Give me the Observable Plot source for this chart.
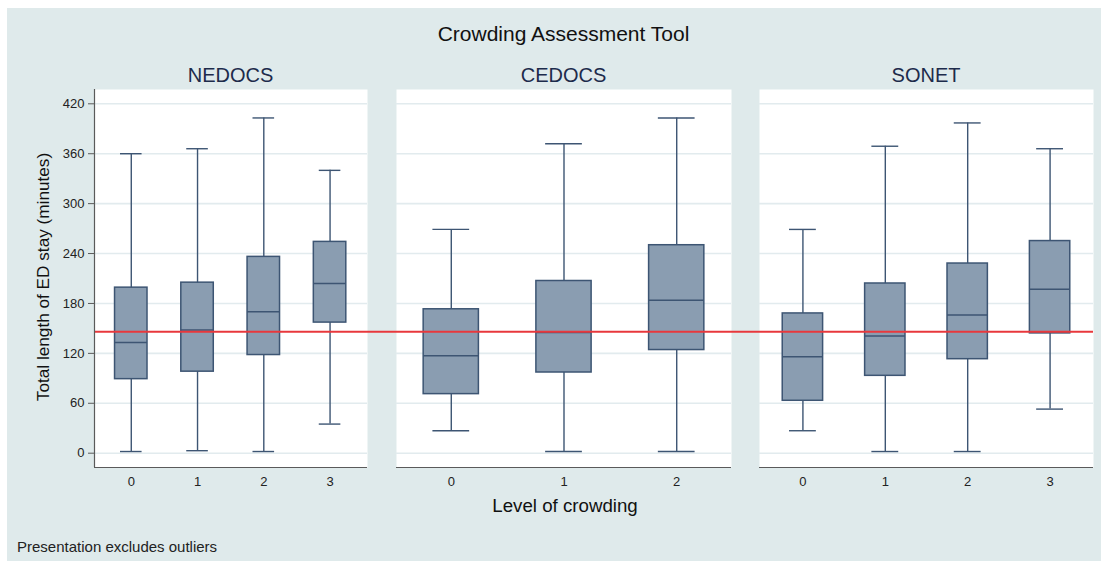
<!DOCTYPE html>
<html>
<head>
<meta charset="utf-8">
<script src="https://cdn.jsdelivr.net/npm/d3@7"></script>
<script src="https://cdn.jsdelivr.net/npm/@observablehq/plot@0.6"></script>
<style>
  html, body { margin: 0; padding: 0; background: #ffffff; }
  body { width: 1108px; height: 563px; position: relative; overflow: hidden; font-family: "Liberation Sans", Arial, sans-serif; }
  #bg { position: absolute; left: 7px; top: 8px; width: 1094px; height: 553px; background: #dfeaeb; }
  .txt { position: absolute; white-space: nowrap; line-height: 1; }
  .c { transform: translateX(-50%); }
  .plotbox { position: absolute; top: 60px; }
  .plotbox svg text { font-size: 13px !important; font-family: "Liberation Sans", Arial, sans-serif !important; }
</style>
</head>
<body>
<div id="bg"></div>
<div id="root"></div>
<script>
// ---- data ----
const panelNames = ["NEDOCS", "CEDOCS", "SONET"];
const yTicks = [0, 60, 120, 180, 240, 300, 360, 420];
const referenceLine = 146;

const nedocsLevel  = [0, 1, 2, 3];
const nedocsLow    = [2, 3, 2, 35];
const nedocsQ1     = [89, 98, 118, 157];
const nedocsMedian = [133, 148, 170, 204];
const nedocsQ3     = [199, 205, 236, 254];
const nedocsHigh   = [360, 366, 403, 340];

const cedocsLevel  = [0, 1, 2];
const cedocsLow    = [27, 2, 2];
const cedocsQ1     = [71, 97, 124];
const cedocsMedian = [117, 145, 184];
const cedocsQ3     = [173, 207, 250];
const cedocsHigh   = [269, 372, 403];

const sonetLevel  = [0, 1, 2, 3];
const sonetLow    = [27, 2, 2, 53];
const sonetQ1     = [63, 93, 113, 144];
const sonetMedian = [116, 141, 166, 197];
const sonetQ3     = [168, 204, 228, 255];
const sonetHigh   = [269, 369, 397, 366];

// ---- styling ----
const boxFill = "#8a9db1";
const boxStroke = "#3d5573";
const axisColor = "#5a5a5a";
const gridColor = "#e2ebee";
const redColor = "#e8383c";
const yDomain = [-17.2, 437.2];
const boxHalf = 0.245;
const capHalf = 0.163;

function rowsOf(level, low, q1, med, q3, high) {
  return level.map((l, i) => ({level: l, low: low[i], q1: q1[i], med: med[i], q3: q3[i], high: high[i]}));
}

function panelPlot(rows, opts) {
  const marks = [
    Plot.frame({fill: "white", stroke: "none"}),
    Plot.gridY(yTicks, {stroke: gridColor, strokeOpacity: 1, strokeWidth: 1.6}),
    Plot.ruleX(rows, {x: "level", y1: "low", y2: "high", stroke: boxStroke, strokeWidth: 1.4}),
    Plot.ruleY(rows, {y: "low", x1: d => d.level - capHalf, x2: d => d.level + capHalf, stroke: boxStroke, strokeWidth: 1.4}),
    Plot.ruleY(rows, {y: "high", x1: d => d.level - capHalf, x2: d => d.level + capHalf, stroke: boxStroke, strokeWidth: 1.4}),
    Plot.rect(rows, {x1: d => d.level - boxHalf, x2: d => d.level + boxHalf, y1: "q1", y2: "q3", fill: boxFill, stroke: boxStroke, strokeWidth: 1.5}),
    Plot.ruleY(rows, {y: "med", x1: d => d.level - boxHalf, x2: d => d.level + boxHalf, stroke: boxStroke, strokeWidth: 1.5}),
    Plot.ruleY([referenceLine], {stroke: redColor, strokeWidth: 2, insetLeft: opts.insetLeft, insetRight: opts.insetRight}),
    Plot.ruleY([yDomain[0]], {stroke: axisColor, strokeWidth: 1.2}),
    Plot.axisX(rows.map(d => d.level), {tickSize: 0, tickPadding: 9, tickFormat: d => String(d), label: null, fill: "#222", fontSize: 13})
  ];
  if (opts.yAxis) {
    marks.push(Plot.ruleX([opts.domain[0]], {stroke: axisColor, strokeWidth: 1.2}));
    marks.push(Plot.axisY(yTicks, {tickSize: 6, tickPadding: 4, label: null, stroke: axisColor, fill: "#222", fontSize: 13}));
  }
  return Plot.plot({
    width: opts.width,
    height: 437,
    marginLeft: opts.ml,
    marginRight: opts.mr,
    marginTop: 29,
    marginBottom: 30,
    style: {background: "transparent", fontSize: "13px", fontFamily: "'Liberation Sans', Arial, sans-serif", overflow: "visible"},
    x: {type: "linear", domain: opts.domain, axis: null},
    y: {domain: yDomain, axis: null},
    marks
  });
}

const root = document.getElementById("root");
const panels = [
  {rows: rowsOf(nedocsLevel, nedocsLow, nedocsQ1, nedocsMedian, nedocsQ3, nedocsHigh),
   left: 30, width: 351, ml: 64, mr: 14, domain: [-0.555, 3.565], yAxis: true, insetLeft: 0, insetRight: -14},
  {rows: rowsOf(cedocsLevel, cedocsLow, cedocsQ1, cedocsMedian, cedocsQ3, cedocsHigh),
   left: 381, width: 364, ml: 15, mr: 14, domain: [-0.486, 2.486], yAxis: false, insetLeft: -15, insetRight: -14},
  {rows: rowsOf(sonetLevel, sonetLow, sonetQ1, sonetMedian, sonetQ3, sonetHigh),
   left: 745, width: 356, ml: 14, mr: 8, domain: [-0.527, 3.527], yAxis: false, insetLeft: -14, insetRight: 0}
];

panels.forEach((p, i) => {
  const box = document.createElement("div");
  box.className = "plotbox";
  box.style.left = p.left + "px";
  box.appendChild(panelPlot(p.rows, p));
  root.appendChild(box);
  // panel title
  const t = document.createElement("div");
  t.className = "txt c";
  t.textContent = panelNames[i];
  t.style.fontSize = "20px";
  t.style.color = "#1d2b4b";
  t.style.left = (p.left + p.ml + (p.width - p.ml - p.mr) / 2) + "px";
  t.style.top = (81.7 - 0.8465 * 20) + "px";
  root.appendChild(t);
});

function addText(str, size, baseline, cx, color) {
  const t = document.createElement("div");
  t.className = "txt c";
  t.textContent = str;
  t.style.fontSize = size + "px";
  t.style.color = color;
  t.style.left = cx + "px";
  t.style.top = (baseline - 0.8465 * size) + "px";
  root.appendChild(t);
}
addText("Crowding Assessment Tool", 21, 41, 563.5, "#111");
addText("Level of crowding", 18.7, 512.7, 565, "#111");

const note = document.createElement("div");
note.className = "txt";
note.textContent = "Presentation excludes outliers";
note.style.fontSize = "15px";
note.style.color = "#222";
note.style.left = "17px";
note.style.top = (551.6 - 0.8465 * 15) + "px";
root.appendChild(note);

const yt = document.createElement("div");
yt.className = "txt";
yt.textContent = "Total length of ED stay (minutes)";
yt.style.fontSize = "17.2px";
yt.style.color = "#111";
yt.style.left = "43.5px";
yt.style.top = "277px";
yt.style.transform = "translate(-50%, -50%) rotate(-90deg)";
root.appendChild(yt);
</script>
</body>
</html>
